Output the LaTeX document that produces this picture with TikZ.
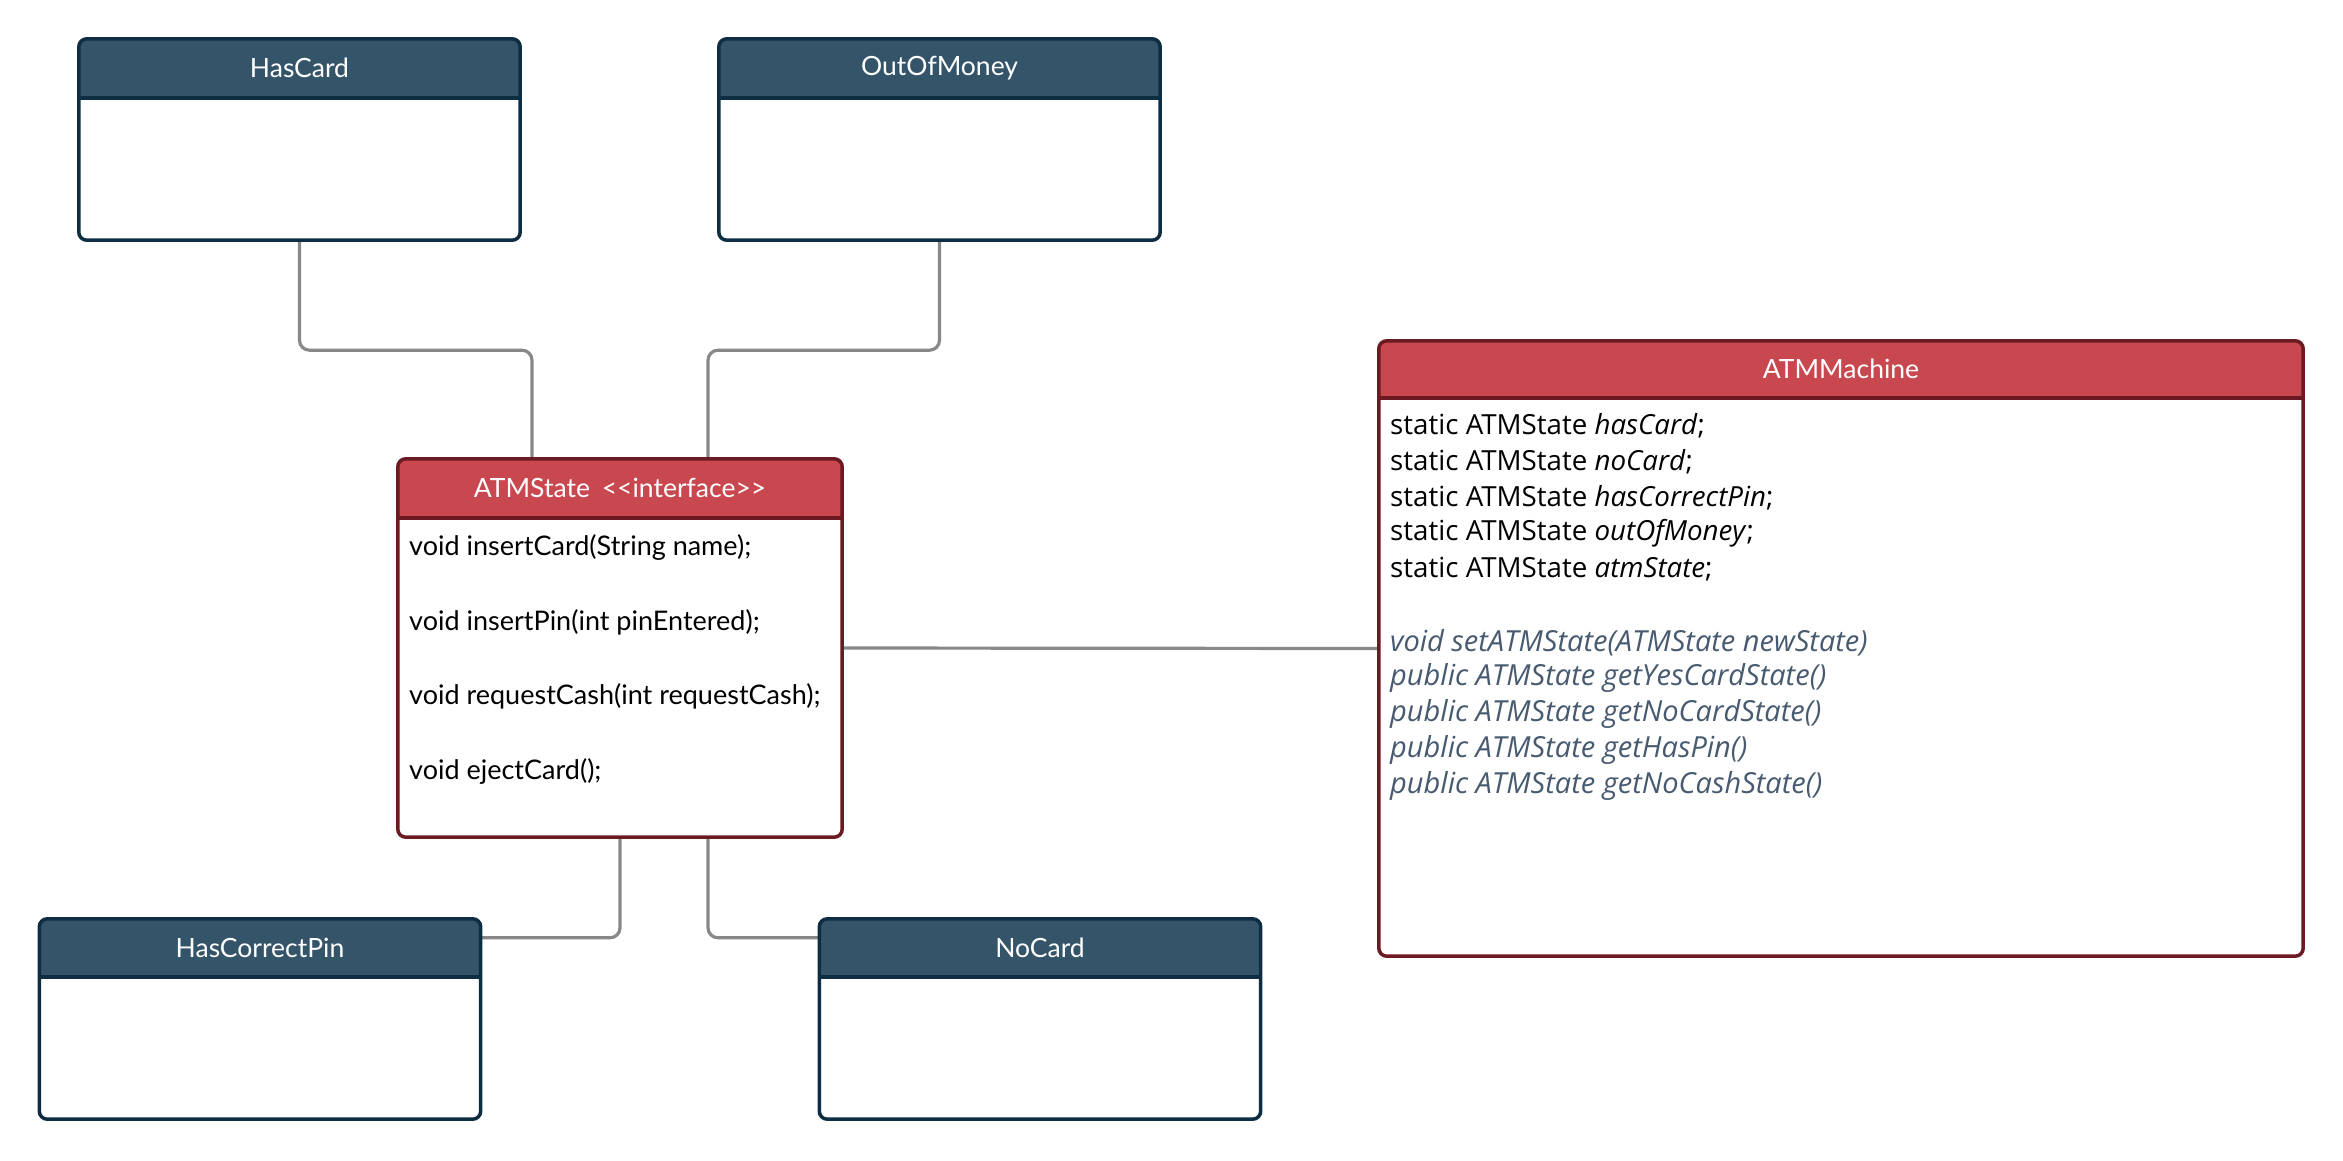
\documentclass[tikz,border=0pt]{standalone}
\usepackage{fontspec}
\setmainfont{Lato}[Ligatures=TeXOff]
\newfontfamily\opensans{Open Sans}[Ligatures=TeXOff]
\usetikzlibrary{calc}
\definecolor{bluehd}{HTML}{34546A}
\definecolor{bluebd}{HTML}{0D2D42}
\definecolor{redhd}{HTML}{C9474F}
\definecolor{redbd}{HTML}{6B1A22}
\definecolor{connc}{HTML}{888888}
\definecolor{methc}{HTML}{475A70}
\newcommand\umlclass[8]{%
  \node[inner sep=0pt, minimum width=#4 pt, minimum height=#5 pt] (#1) at (#2,#3) {};
  \begin{scope}
    \clip[rounded corners=8pt] (#1.north west) rectangle (#1.south east);
    \fill[white] (#1.north west) rectangle (#1.south east);
    \fill[#7] (#1.north west) rectangle ([yshift=-#6 pt]#1.north east);
  \end{scope}
  \draw[#8, line width=3.5pt] ([yshift=-#6 pt]#1.north west) -- ([yshift=-#6 pt]#1.north east);
  \draw[#8, line width=3.5pt, rounded corners=8pt] (#1.north west) rectangle (#1.south east);
}
\tikzset{
  conn/.style={draw=connc, line width=3.2pt, rounded corners=10pt},
  title/.style={text=white, font=\fontsize{26.5}{30}\selectfont, inner sep=0pt},
  body/.style={text=black, font=\fontsize{27}{30}\selectfont, inner sep=0pt, anchor=west},
  attr/.style={text=black, font=\opensans\fontsize{27.7}{30}\selectfont, inner sep=0pt, anchor=west},
  meth/.style={text=methc, font=\opensans\fontsize{29}{30}\selectfont\itshape, inner sep=0pt, anchor=west},
}
\begin{document}
\begin{tikzpicture}[x=1pt,y=-1pt]
\useasboundingbox (0,0) rectangle (2343,1160);
% placeholders for positions
\node[inner sep=0pt, minimum width=441pt, minimum height=201pt] (hascard) at (299.5,139.5) {};
\node[inner sep=0pt, minimum width=441pt, minimum height=201pt] (outofmoney) at (939.5,139.5) {};
\node[inner sep=0pt, minimum width=444pt, minimum height=378pt] (atmstate) at (620,648) {};
\node[inner sep=0pt, minimum width=924pt, minimum height=615pt] (atmmachine) at (1841,648.5) {};
\node[inner sep=0pt, minimum width=441pt, minimum height=200pt] (hascorrectpin) at (260,1019) {};
\node[inner sep=0pt, minimum width=441pt, minimum height=200pt] (nocard) at (1040,1019) {};
% connectors
\draw[conn] (hascard.south) -- ++(0,110) -| ([xshift=-88pt]atmstate.north);
\draw[conn] (outofmoney.south) -- ++(0,110) -| ([xshift=88pt]atmstate.north);
\draw[conn] (atmstate.east) -- (atmmachine.west);
\draw[conn] (atmstate.south) |- ([yshift=-19pt]hascorrectpin.north east);
\draw[conn] ([xshift=88pt]atmstate.south) |- ([yshift=-19pt]nocard.north west);
% boxes
\umlclass{hascard}{299.5}{139.5}{441}{201}{59}{bluehd}{bluebd}
\umlclass{outofmoney}{939.5}{139.5}{441}{201}{59}{bluehd}{bluebd}
\umlclass{atmstate}{620}{648}{444}{378}{59}{redhd}{redbd}
\umlclass{atmmachine}{1841}{648.5}{924}{615}{57}{redhd}{redbd}
\umlclass{hascorrectpin}{260}{1019}{441}{200}{58}{bluehd}{bluebd}
\umlclass{nocard}{1040}{1019}{441}{200}{58}{bluehd}{bluebd}
% titles
\node[title] (hascardT) at ([yshift=-29.5pt]hascard.north) {HasCard};
\node[title] (outofmoneyT) at ([yshift=-29.5pt]outofmoney.north) {OutOfMoney};
\node[title] (atmstateT) at ([yshift=-29.5pt]atmstate.north) {ATMState\hspace{0.45em}<<interface>>};
\node[title] (atmmachineT) at ([yshift=-28.5pt]atmmachine.north) {ATMMachine};
\node[title] (hascorrectpinT) at ([yshift=-29pt]hascorrectpin.north) {HasCorrectPin};
\node[title] (nocardT) at ([yshift=-29pt]nocard.north) {NoCard};
% ATMState methods
\node[body] (m1) at (409,547) {void insertCard(String name);};
\node[body] (m2) at (409,622) {void insertPin(int pinEntered);};
\node[body] (m3) at (409,696) {void requestCash(int requestCash);};
\node[body] (m4) at (409,771) {void ejectCard();};
% ATMMachine attributes
\node[attr] (a1) at (1390,426) {static ATMState \textit{hasCard};};
\node[attr] (a2) at (1390,462) {static ATMState \textit{noCard};};
\node[attr] (a3) at (1390,498) {static ATMState \textit{hasCorrectPin};};
\node[attr] (a4) at (1390,533) {static ATMState \textit{outOfMoney};};
\node[attr] (a5) at (1390,569) {static ATMState \textit{atmState};};
% ATMMachine methods
\node[meth] (b1) at (1390,643) {void setATMState(ATMState newState)};
\node[meth] (b2) at (1390,678) {public ATMState getYesCardState()};
\node[meth] (b3) at (1390,714) {public ATMState getNoCardState()};
\node[meth] (b4) at (1390,750) {public ATMState getHasPin()};
\node[meth] (b5) at (1390,786) {public ATMState getNoCashState()};
\end{tikzpicture}
\end{document}
